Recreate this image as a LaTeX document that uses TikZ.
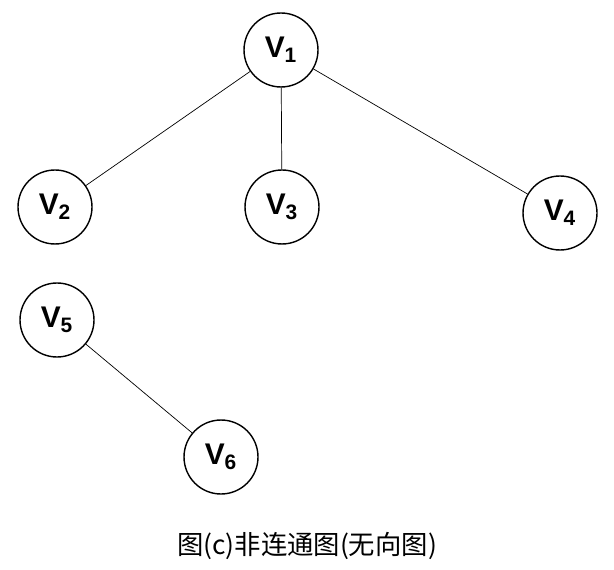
\documentclass[tikz,border=0pt]{standalone}
\usepackage{fontspec}
\setmainfont{Liberation Sans}
\newfontfamily\cjk{Noto Sans CJK SC}
\begin{document}
\begin{tikzpicture}[x=0.02cm,y=-0.02cm,
  vertex/.style={draw,circle,thick,minimum size=1.48cm,inner sep=0pt,font=\fontsize{17}{19}\selectfont\bfseries}]

\useasboundingbox (0,0) rectangle (614,570);

\node[vertex] (v1) at (281,50) {V\textsubscript{1}};	% top
\node[vertex] (v2) at (55,207) {V\textsubscript{2}};
\node[vertex] (v3) at (282,207) {V\textsubscript{3}};
\node[vertex] (v4) at (560,213) {V\textsubscript{4}};
\node[vertex] (v5) at (57,320) {V\textsubscript{5}};	% second part
\node[vertex] (v6) at (221,457) {V\textsubscript{6}};

\draw (v1) -- (v2);
\draw (v1) -- (v3);
\draw (v1) -- (v4);
\draw (v5) -- (v6);

\node (caption) at (307,546) {\cjk\fontsize{15}{18}\selectfont 图(c)非连通图(无向图)};	% caption

\end{tikzpicture}
\end{document}
